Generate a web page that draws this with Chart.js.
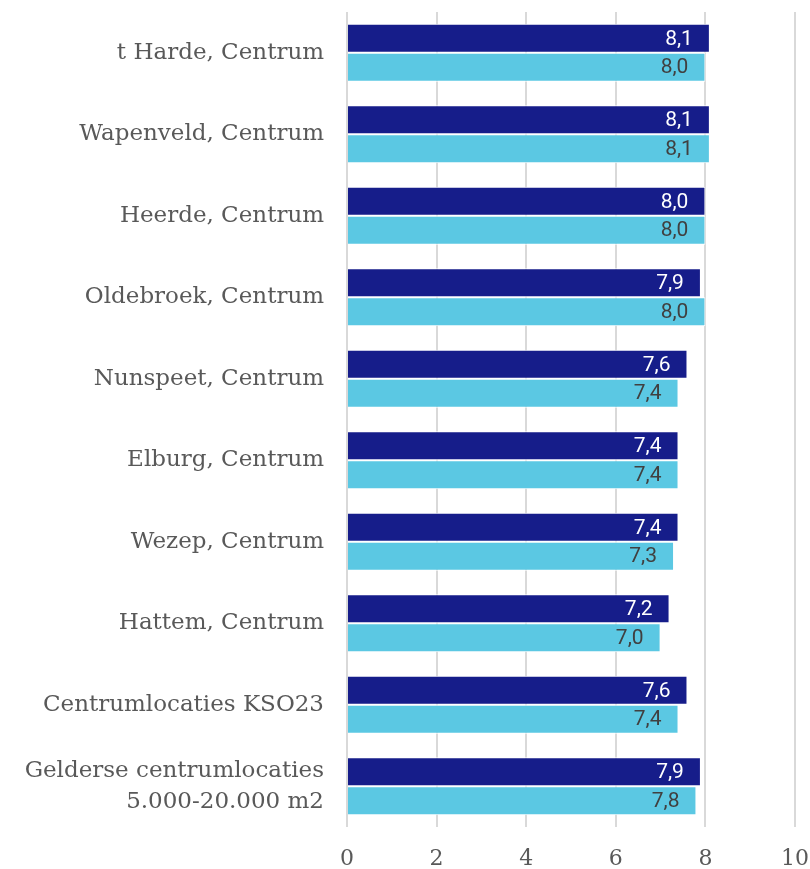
<!DOCTYPE html>
<html>
<head>
<meta charset="utf-8">
<script src="https://cdn.jsdelivr.net/npm/chart.js@4"></script>
<style>
  html, body { margin: 0; padding: 0; background: #fff; }
  #wrap { width: 810px; height: 869px; position: relative; }
</style>
</head>
<body>
<div id="wrap"><canvas id="chart"></canvas></div>
<script>
// ==================== DATA ====================
const categories = [
    't Harde, Centrum',
    'Wapenveld, Centrum',
    'Heerde, Centrum',
    'Oldebroek, Centrum',
    'Nunspeet, Centrum',
    'Elburg, Centrum',
    'Wezep, Centrum',
    'Hattem, Centrum',
    'Centrumlocaties KSO23',
    ['Gelderse centrumlocaties', '5.000-20.000 m2']
];
const darkValues  = [8.1, 8.1, 8.0, 7.9, 7.6, 7.4, 7.4, 7.2, 7.6, 7.9];
const lightValues = [8.0, 8.1, 8.0, 8.0, 7.4, 7.4, 7.3, 7.0, 7.4, 7.8];
const xTicks = [0, 2, 4, 6, 8, 10];

const darkColor = '#161d8a';
const lightColor = '#5bc8e3';

// ==================== VALUE LABELS ====================
// Draw value inside the end of each bar (comma decimal)
const valueLabels = {
    id: 'valueLabels',
    afterDatasetsDraw(chart) {
        const ctx = chart.ctx;
        ctx.save();
        ctx.font = '21px Roboto';
        ctx.textAlign = 'right';
        ctx.textBaseline = 'middle';
        chart.data.datasets.forEach((ds, di) => {
            const meta = chart.getDatasetMeta(di);
            meta.data.forEach((bar, i) => {
                ctx.fillStyle = di === 0 ? '#ffffff' : '#404040';
                ctx.fillText(ds.data[i].toFixed(1).replace('.', ','), bar.x - 17, bar.y + 1);
            });
        });
        ctx.restore();
    }
};

new Chart(document.getElementById('chart'), {
    type: 'bar',
    data: {
        labels: categories,
        datasets: [
            { data: darkValues, backgroundColor: darkColor, borderColor: '#ffffff', borderWidth: 1 },
            { data: lightValues, backgroundColor: lightColor, borderColor: '#ffffff', borderWidth: 1 }
        ]
    },
    options: {
        indexAxis: 'y',
        responsive: true,
        maintainAspectRatio: false,
        animation: false,
        layout: { padding: { top: 12, right: 15, left: 0, bottom: 0 } },
        datasets: { bar: { categoryPercentage: 0.71, barPercentage: 1.0 } },
        plugins: {
            legend: { display: false },
            tooltip: { enabled: false }
        },
        scales: {
            x: {
                min: 0,
                max: 10,
                afterBuildTicks: s => { s.ticks = xTicks.map(v => ({ value: v })); },
                afterFit: s => { s.height = 42; s.paddingLeft = 0; s.paddingRight = 0; },
                grid: { color: '#d9d9d9', lineWidth: 2, drawTicks: false },
                border: { display: false },
                ticks: {
                    padding: 19,
                    color: '#595959',
                    font: { family: 'DejaVu Serif', size: 22 }
                }
            },
            y: {
                afterFit: s => { s.width = 347; s.paddingTop = 0; s.paddingBottom = 0; },
                grid: { display: false, drawTicks: false },
                border: { display: false },
                ticks: {
                    padding: 23,
                    color: '#595959',
                    font: { family: 'DejaVu Serif', size: 23, lineHeight: 1.35 }
                }
            }
        }
    },
    plugins: [valueLabels]
});
</script>
</body>
</html>
